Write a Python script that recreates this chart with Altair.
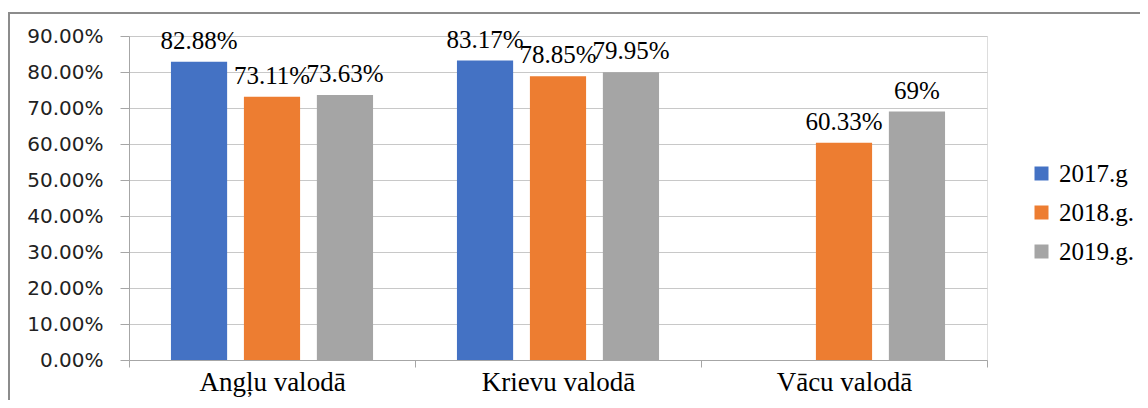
import altair as alt
import pandas as pd

categories = ["Angļu valodā", "Krievu valodā", "Vācu valodā"]
years = ["2017.g", "2018.g.", "2019.g."]
values_2017 = [82.88, 83.17, None]
values_2018 = [73.11, 78.85, 60.33]
values_2019 = [73.63, 79.95, 69.0]
labels_2017 = ["82.88%", "83.17%", ""]
labels_2018 = ["73.11%", "78.85%", "60.33%"]
labels_2019 = ["73.63%", "79.95%", "69%"]
y_ticks = [0.0, 0.1, 0.2, 0.3, 0.4, 0.5, 0.6, 0.7, 0.8, 0.9]
colors = ["#4472C4", "#ED7D31", "#A5A5A5"]

rows = []
for yr, vals, labs in zip(years, [values_2017, values_2018, values_2019],
                          [labels_2017, labels_2018, labels_2019]):
    for cat, v, lab in zip(categories, vals, labs):
        if v is None:
            continue
        rows.append({"cat": cat, "year": yr, "value": v / 100.0, "label": lab})
df = pd.DataFrame(rows)

serif = "Liberation Serif"
sans = "DejaVu Sans"

x_enc = alt.X("cat:N", sort=categories, title=None,
              scale=alt.Scale(domain=categories, paddingInner=0, paddingOuter=0),
              axis=alt.Axis(labelAngle=0, labelFont=serif, labelFontSize=27,
                            labelColor="#000000", tickBand="extent",
                            tickSize=7, tickColor="#a6a6a6", domainColor="#a6a6a6",
                            labelPadding=2, grid=False))
xo_enc = alt.XOffset("year:N", sort=years,
                     scale=alt.Scale(domain=years, paddingInner=0.23, paddingOuter=0.575))
y_enc = alt.Y("value:Q", title=None,
              scale=alt.Scale(domain=[0, 0.9], nice=False),
              axis=alt.Axis(format=".2%", values=y_ticks, labelOverlap=False,
                            labelFont=sans, labelFontSize=20, labelColor="#222222",
                            tickSize=9, tickColor="#a6a6a6", domainColor="#a6a6a6",
                            gridColor="#c8c8c8", labelPadding=17))

bars = alt.Chart(df).mark_bar().encode(
    x=x_enc, xOffset=xo_enc, y=y_enc,
    color=alt.Color("year:N", sort=years,
                    scale=alt.Scale(domain=years, range=colors),
                    legend=alt.Legend(title=None, orient="none", legendX=900, legendY=125,
                                      symbolType="square", symbolSize=196,
                                      symbolStrokeWidth=0,
                                      labelFont=serif, labelFontSize=25,
                                      labelColor="#000000", labelOffset=5,
                                      rowPadding=13)),
)

texts = alt.Chart(df).mark_text(font=serif, fontSize=25, baseline="middle", dy=-21,
                                color="#000000").encode(
    x=x_enc, xOffset=xo_enc, y=y_enc, text="label:N")

frame = alt.Chart(df).mark_rect(fill=None, stroke="#8c8c8c", strokeWidth=1.5,
                                clip=False).encode(
    x=alt.value(-120), x2=alt.value(1060), y=alt.value(-23), y2=alt.value(420))

chart = alt.layer(frame, bars, texts).properties(
    width=858, height=324,
    autosize=alt.AutoSizeParams(type="none"),
    padding={"left": 121, "top": 28, "right": 153, "bottom": 40},
).configure_view(stroke=None).configure(background="#ffffff")

chart.save("out.html", embed_options={"renderer": "svg", "actions": False})
